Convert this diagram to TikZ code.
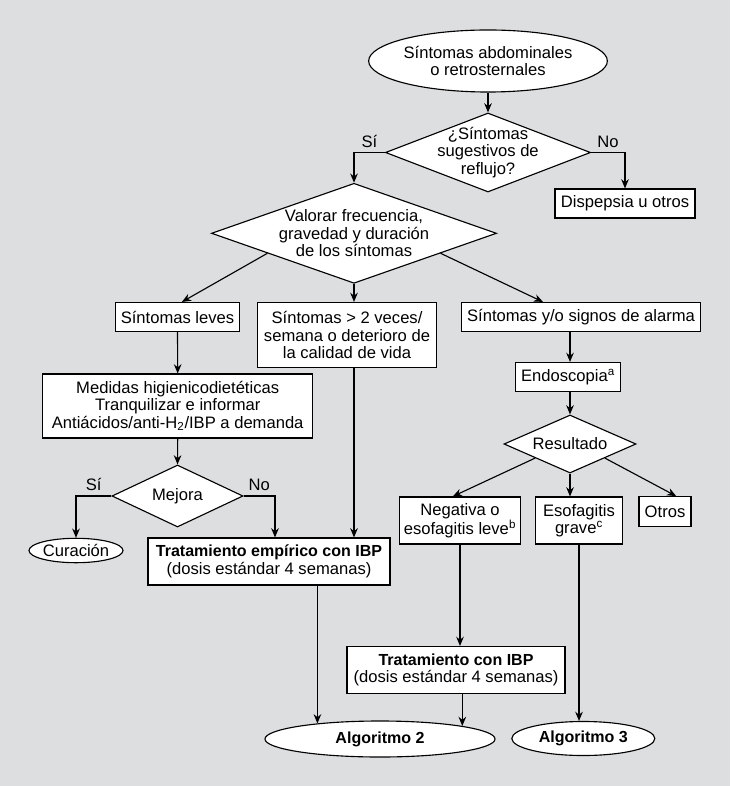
\documentclass[tikz,border=0pt]{standalone}
\usepackage{fontspec}
\setmainfont{Liberation Sans}
\usetikzlibrary{shapes.geometric,arrows.meta}
\definecolor{fondo}{RGB}{221,222,224}
\tikzset{
  caja/.style={draw,fill=white,line width=0.8pt,inner sep=0pt,align=center},
  rombo/.style={caja,diamond},
  elipse/.style={caja,ellipse},
  flecha/.style={line width=0.8pt,-{Stealth[length=2.3mm,width=1.9mm]}},
}
\newcommand{\negrita}[1]{{\fontsize{11.4}{12.5}\selectfont\bfseries #1}}

\begin{document}
\begin{tikzpicture}[x=0.025cm,y=-0.025cm,font=\fontsize{11.8}{12.5}\selectfont]
      \fill[fondo] (0,0) rectangle (730,786);
      \node[elipse,minimum width=5.95cm,minimum height=1.55cm] (inicio) at (488,61) {Síntomas abdominales\\o retrosternales};
      \node[rombo,shape aspect=2.6,inner sep=-3.5pt,minimum width=5.125cm,minimum height=1.975cm] (reflujo) at (488,152.5) {¿Síntomas\\sugestivos de\\reflujo?};
      \node[caja,minimum width=3.5cm,minimum height=0.725cm] (dispepsia) at (625,203.5) {Dispepsia u otros};
      \node[rombo,shape aspect=2.85,inner sep=-2.5pt,minimum width=7.125cm,minimum height=2.5cm] (valorar) at (354,233.3) {Valorar frecuencia,\\gravedad y duración\\de los síntomas};
      \node[caja,minimum width=3.09cm,minimum height=0.725cm] (leves) at (177.5,317) {Síntomas leves};
      \node[caja,minimum width=4.475cm,minimum height=1.625cm] (frecuentes) at (347,335) {Síntomas > 2 veces/\\semana o deterioro de\\la calidad de vida};
      \node[caja,minimum width=5.975cm,minimum height=0.725cm] (alarma) at (581,317) {Síntomas y/o signos de alarma};
      \node[caja,minimum width=6.75cm,minimum height=1.6cm] (medidas) at (177.7,406) {Medidas higienicodietéticas\\Tranquilizar e informar\\Antiácidos/anti-H\textsubscript{2}/IBP a demanda};
      \node[rombo,shape aspect=2.1,minimum width=3.275cm,minimum height=1.55cm] (mejora) at (177.5,496) {Mejora};
      \node[elipse,minimum width=2.35cm,minimum height=0.61cm] (curacion) at (76,550.5) {Curación};
      \node[caja,minimum width=6.05cm,minimum height=1.175cm] (empirico) at (269,561.5) {\negrita{Tratamiento empírico con IBP}\\(dosis estándar 4 semanas)};
      \node[caja,minimum width=2.625cm,minimum height=0.725cm] (endoscopia) at (568,377) {Endoscopia\textsuperscript{a}};
      \node[rombo,shape aspect=2.28,minimum width=3.3cm,minimum height=1.45cm] (resultado) at (570,444) {Resultado};
      \node[caja,minimum width=3.035cm,minimum height=1.175cm] (negativa) at (460,520.5) {Negativa o\\esofagitis leve\textsuperscript{b}};
      \node[caja,minimum width=2.165cm,minimum height=1.175cm] (grave) at (579,520.5) {Esofagitis\\grave\textsuperscript{c}};
      \node[caja,minimum width=1.3cm,minimum height=0.75cm] (otros) at (665,511.7) {Otros};
      \node[caja,minimum width=5.45cm,minimum height=1.175cm] (ibp) at (456,670) {\negrita{Tratamiento con IBP}\\(dosis estándar 4 semanas)};
      \node[elipse,minimum width=5.75cm,minimum height=0.9cm] (algo2) at (380,739) {\negrita{Algoritmo 2}};
      \node[elipse,minimum width=3.575cm,minimum height=0.85cm] (algo3) at (583.3,738.5) {\negrita{Algoritmo 3}};
      \draw[flecha] (inicio.south) -- (reflujo.north);
      \draw[flecha] (reflujo.west) -| node[pos=0.25,above] {Sí} (valorar.north);
      \draw[flecha] (reflujo.east) -| node[pos=0.25,above] {No} (dispepsia.north);
      \draw[flecha] (valorar.193) -- ([xshift=0.11cm]leves.north);
      \draw[flecha] (valorar.south) -- (valorar.south |- frecuentes.north);
      \draw[flecha] (valorar.347) -- ([xshift=-0.95cm]alarma.north);
      \draw[flecha] (leves.south) -- (medidas.north);
      \draw[flecha] (medidas.south) -- (mejora.north);
      \draw[flecha] (mejora.west) -| node[pos=0.25,above] {Sí} (curacion.north);
      \draw[flecha] (mejora.east) -| node[pos=0.25,above] {No} ([xshift=0.15cm]empirico.north);
      \draw[flecha] (valorar.south |- frecuentes.south) -- (valorar.south |- empirico.north);
      \draw[flecha] (algo2.166 |- empirico.south) -- (algo2.166);
      \draw[flecha] (resultado.north |- alarma.south) -- (resultado.north |- endoscopia.north);
      \draw[flecha] (resultado.north |- endoscopia.south) -- (resultado.north);
      \draw[flecha] (resultado.202) -- ([xshift=-0.18cm]negativa.north);
      \draw[flecha] (resultado.south) -- (resultado.south |- grave.north);
      \draw[flecha] (resultado.338) -- ([xshift=0.28cm]otros.north);
      \draw[flecha] (negativa.south) -- (negativa.south |- ibp.north);
      \draw[flecha] (algo2.9 |- ibp.south) -- (algo2.9);
      \draw[flecha] (grave.south) -- (grave.south |- algo3.north);
    \end{tikzpicture}
\end{document}
